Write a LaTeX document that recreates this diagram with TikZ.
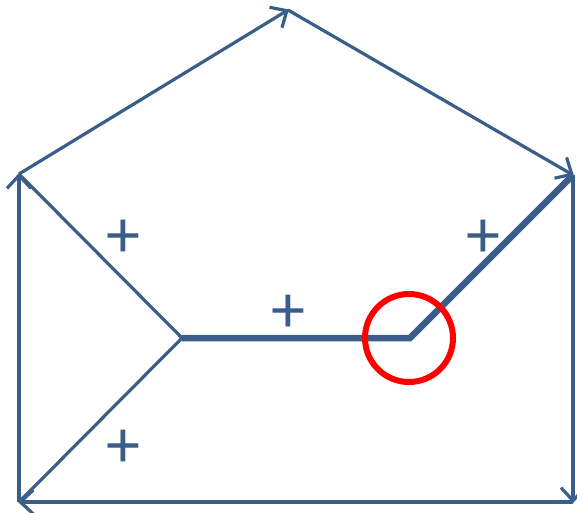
\documentclass[tikz,border=0pt]{standalone}
\usepackage{fontspec}
\setmainfont{Carlito}
\usetikzlibrary{arrows.meta}
\definecolor{edgeblue}{RGB}{58,94,137}
\definecolor{markred}{RGB}{255,0,0}
\tikzset{
  thin edge/.style={draw=edgeblue, line width=3.2pt},
  thick edge/.style={draw=edgeblue, line width=6.5pt},
  arrowed/.style={thin edge, -{Straight Barb[length=13pt,width=24pt,line width=3.2pt]}, shorten >=-1pt},
  plus/.style={text=edgeblue, font=\fontsize{68}{68}\selectfont, inner sep=0pt},
  marker/.style={draw=markred, line width=6pt}
}
\begin{document}
\begin{tikzpicture}[x=1pt,y=-1pt]
\useasboundingbox (0,0) rectangle (577,512);
\coordinate (T) at (288,10);
\coordinate (L1) at (19,174);
\coordinate (R1) at (573,175);
\coordinate (R2) at (573,502);
\coordinate (L2) at (19,502);
\coordinate (C) at (182,338);
\coordinate (P) at (410,338);
\draw[thin edge] (C) -- (L1);
\draw[thin edge] (C) -- (L2);
\draw[arrowed] (L1) -- (T);
\draw[arrowed] (T) -- (R1);
\draw[arrowed] (R1) -- (R2);
\draw[arrowed] (R2) -- (L2);
\draw[arrowed] (L2) -- (L1);
\draw[thick edge] (C) -- (P) -- (R1);
\node[marker, circle, minimum size=88pt] (ring) at (409,338) {};
\node[plus] (p1) at (123,239) {+};
\node[plus] (p2) at (288,314) {+};
\node[plus] (p3) at (483,239) {+};
\node[plus] (p4) at (123,449) {+};
\end{tikzpicture}
\end{document}
